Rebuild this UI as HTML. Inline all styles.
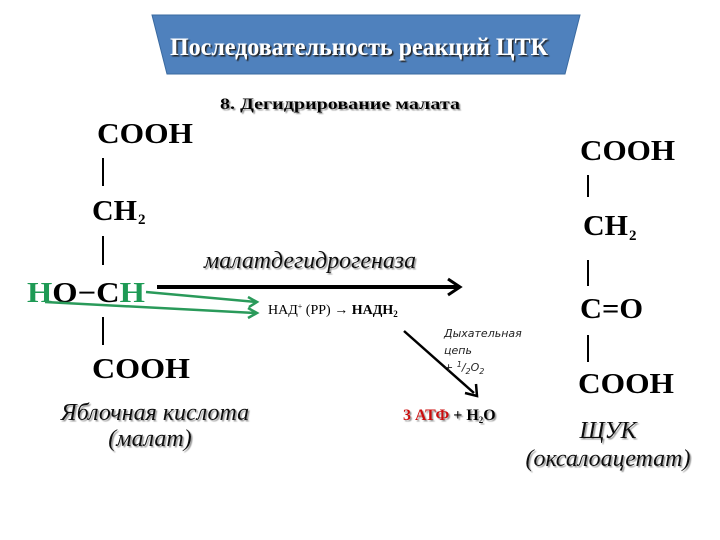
<!DOCTYPE html>
<html><head><meta charset="utf-8"><style>
html,body{margin:0;padding:0;background:#fff;}
svg{display:block;}
.ch{font-family:"Liberation Serif",serif;font-weight:bold;font-size:28px;fill:#000;}
.it{font-family:"Liberation Serif",serif;font-style:italic;font-size:24px;fill:#111;}
.sr{font-family:"Liberation Serif",serif;}
</style></head><body>
<svg width="720" height="540" viewBox="0 0 720 540" xmlns="http://www.w3.org/2000/svg">
<defs>
<filter id="sh" x="-5%" y="-20%" width="110%" height="140%"><feDropShadow dx="1.5" dy="1.5" stdDeviation="0.6" flood-color="#999"/></filter>
<filter id="sh2" x="-5%" y="-20%" width="110%" height="140%"><feDropShadow dx="1.5" dy="1.5" stdDeviation="0.5" flood-color="#222"/></filter>
</defs>
<polygon points="152,15 580,15 565,74 167,74" fill="#4f81bd" stroke="#3a6aa0" stroke-width="1"/>
<text x="170" y="55" class="sr" font-weight="bold" style="font-size:25px" fill="#fff" filter="url(#sh2)" textLength="378" lengthAdjust="spacingAndGlyphs">Последовательность реакций ЦТК</text>
<text x="220" y="109" class="sr" font-weight="bold" style="font-size:16px" filter="url(#sh)" textLength="240" lengthAdjust="spacingAndGlyphs">8. Дегидрирование малата</text>

<!-- left -->
<text x="97" y="143" class="ch" textLength="96" lengthAdjust="spacingAndGlyphs">COOH</text>
<line x1="103" y1="158" x2="103" y2="186" stroke="#000" stroke-width="2"/>
<text x="92" y="220" class="ch" textLength="45" lengthAdjust="spacingAndGlyphs">CH</text>
<text x="138" y="224" class="ch" style="font-size:15px">2</text>
<line x1="103" y1="236" x2="103" y2="265" stroke="#000" stroke-width="2"/>
<text x="27" y="302" class="ch" textLength="118" lengthAdjust="spacingAndGlyphs"><tspan fill="#1e9a55">H</tspan><tspan>O−C</tspan><tspan fill="#1e9a55">H</tspan></text>
<line x1="103" y1="317" x2="103" y2="345" stroke="#000" stroke-width="2"/>
<text x="92" y="378" class="ch" textLength="98" lengthAdjust="spacingAndGlyphs">COOH</text>
<text x="155" y="420" class="it" text-anchor="middle" filter="url(#sh)">Яблочная кислота</text>
<text x="150" y="446" class="it" text-anchor="middle" filter="url(#sh)">(малат)</text>

<!-- main arrow -->
<text x="310" y="268" class="it" text-anchor="middle" filter="url(#sh)" textLength="212" lengthAdjust="spacingAndGlyphs">малатдегидрогеназа</text>
<line x1="157" y1="287" x2="458" y2="287" stroke="#000" stroke-width="4"/>
<polyline points="448,279 460,287 448,295" fill="none" stroke="#000" stroke-width="3"/>
<g stroke="#2a9a5a" stroke-width="2.5" fill="none">
<line x1="146" y1="292" x2="256" y2="302"/>
<polyline points="248,297 257,302 249,307"/>
<line x1="45" y1="302" x2="256" y2="313"/>
<polyline points="248,308 257,313 248,318"/>
</g>
<text x="268" y="314" class="sr" style="font-size:14px">НАД<tspan style="font-size:8px" dy="-5">+</tspan><tspan dy="5"> (РР)  → </tspan><tspan font-weight="bold">НАДН</tspan><tspan style="font-size:9px" dy="3" font-weight="bold">2</tspan></text>
<line x1="404" y1="331" x2="474" y2="393" stroke="#000" stroke-width="2.5"/>
<polyline points="465,393 477,396 476,384" fill="none" stroke="#000" stroke-width="2.5"/>
<g font-family="DejaVu Sans,sans-serif" font-style="italic" font-size="11" fill="#222">
<text x="444" y="337">Дыхательная</text>
<text x="444" y="354">цепь</text>
<text x="444" y="371">+ <tspan font-size="8" dy="-4">1</tspan><tspan dy="4">/</tspan><tspan font-size="8" dy="3">2</tspan><tspan dy="-3">O</tspan><tspan font-size="8" dy="3">2</tspan></text>
</g>
<text x="403" y="420" class="sr" font-weight="bold" style="font-size:16px" filter="url(#sh)"><tspan fill="#cc1111">3 АТФ</tspan> + Н<tspan style="font-size:9px" dy="3">2</tspan><tspan dy="-3">О</tspan></text>

<!-- right -->
<text x="580" y="160" class="ch" textLength="95" lengthAdjust="spacingAndGlyphs">COOH</text>
<line x1="588" y1="175" x2="588" y2="197" stroke="#000" stroke-width="2"/>
<text x="583" y="235" class="ch" textLength="45" lengthAdjust="spacingAndGlyphs">CH</text>
<text x="629" y="240" class="ch" style="font-size:15px">2</text>
<line x1="588" y1="260" x2="588" y2="286" stroke="#000" stroke-width="2"/>
<text x="580" y="318" class="ch" textLength="63" lengthAdjust="spacingAndGlyphs">C=O</text>
<line x1="588" y1="335" x2="588" y2="362" stroke="#000" stroke-width="2"/>
<text x="578" y="393" class="ch" textLength="96" lengthAdjust="spacingAndGlyphs">COOH</text>
<text x="608" y="438" class="it" text-anchor="middle" filter="url(#sh)">ЩУК</text>
<text x="608" y="466" class="it" text-anchor="middle" filter="url(#sh)">(оксалоацетат)</text>
</svg>
</body></html>
